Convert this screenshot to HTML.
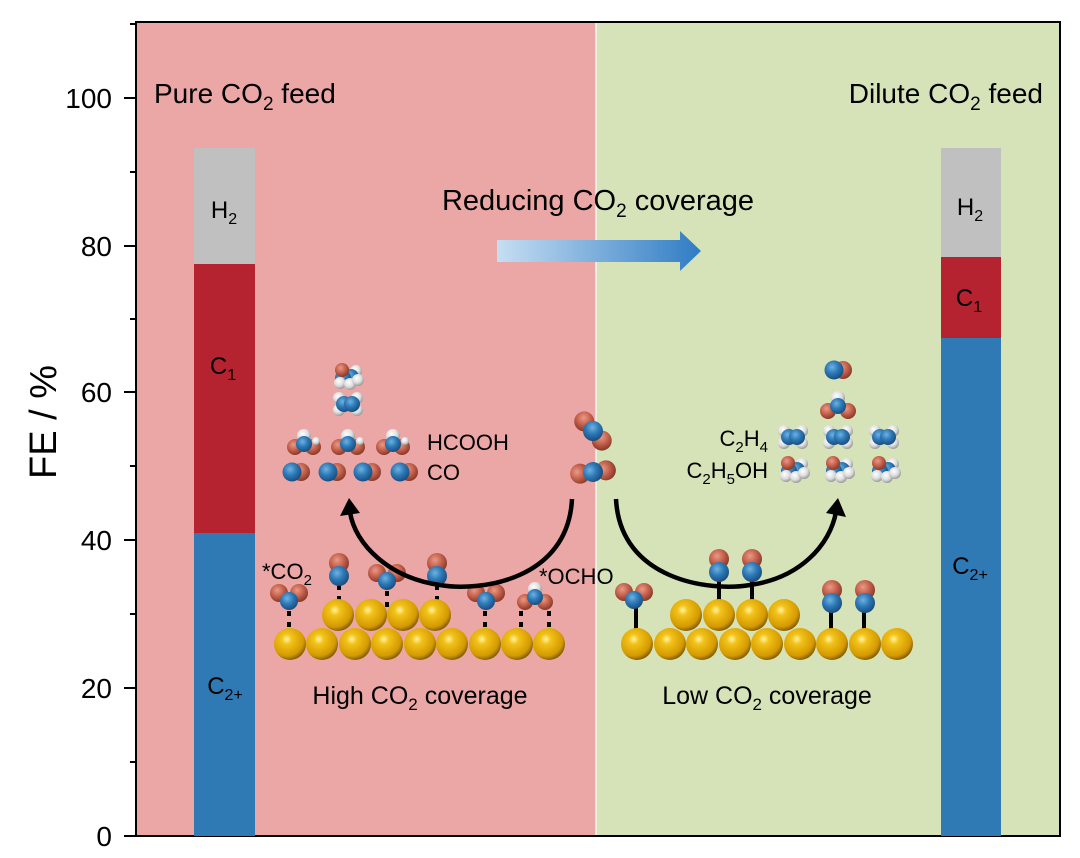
<!DOCTYPE html>
<html><head><meta charset="utf-8"><style>
html,body{margin:0;padding:0;background:#fff;}
svg{display:block;font-family:"Liberation Sans","Noto Sans CJK SC",sans-serif;}
</style></head><body>
<svg width="1080" height="858" viewBox="0 0 1080 858" xmlns="http://www.w3.org/2000/svg">
<defs>
<radialGradient id="gAu" cx="40%" cy="35%" r="65%"><stop offset="0" stop-color="#fff3a0"/><stop offset="0.25" stop-color="#f2c21a"/><stop offset="0.8" stop-color="#d49a00"/><stop offset="1" stop-color="#8c6200"/></radialGradient>
<radialGradient id="gO" cx="40%" cy="35%" r="65%"><stop offset="0" stop-color="#e89a88"/><stop offset="0.5" stop-color="#c8644f"/><stop offset="1" stop-color="#8a3a2a"/></radialGradient>
<radialGradient id="gC" cx="40%" cy="35%" r="65%"><stop offset="0" stop-color="#6fb2e0"/><stop offset="0.5" stop-color="#2e7ab8"/><stop offset="1" stop-color="#1a4f80"/></radialGradient>
<radialGradient id="gH" cx="40%" cy="35%" r="65%"><stop offset="0" stop-color="#ffffff"/><stop offset="0.6" stop-color="#dcdcdc"/><stop offset="1" stop-color="#9a9a9a"/></radialGradient>
<linearGradient id="gArr" x1="0" x2="1"><stop offset="0" stop-color="#c6def2"/><stop offset="1" stop-color="#2f7cc4"/></linearGradient>
<g id="au"><circle r="16" fill="url(#gAu)"/></g>
<g id="co2"><circle cx="-10" cy="-5" r="9" fill="url(#gO)"/><circle cx="10" cy="-5" r="9" fill="url(#gO)"/><circle cx="0" cy="3" r="9" fill="url(#gC)"/></g>
<g id="coUp"><circle cx="0" cy="-7" r="10" fill="url(#gO)"/><circle cx="0" cy="6" r="10" fill="url(#gC)"/></g>
<g id="coH"><circle cx="5" cy="0" r="9" fill="url(#gO)"/><circle cx="-4" cy="0" r="9.5" fill="url(#gC)"/></g>
<g id="hcooh"><circle cx="-9" cy="4" r="8" fill="url(#gO)"/><circle cx="9" cy="4" r="8" fill="url(#gO)"/><circle cx="12" cy="-2" r="4" fill="url(#gH)"/><circle cx="0" cy="-7" r="7" fill="url(#gH)"/><circle cx="0" cy="1" r="8" fill="url(#gC)"/></g>
<g id="ocho"><circle cx="-10" cy="5" r="8" fill="url(#gO)"/><circle cx="10" cy="5" r="8" fill="url(#gO)"/><circle cx="0" cy="-8" r="7" fill="url(#gH)"/><circle cx="0" cy="0" r="8" fill="url(#gC)"/></g>
<g id="c2h4"><circle cx="-9" cy="-6" r="6" fill="url(#gH)"/><circle cx="9" cy="-6" r="6" fill="url(#gH)"/><circle cx="-9" cy="6" r="6" fill="url(#gH)"/><circle cx="9" cy="6" r="6" fill="url(#gH)"/><circle cx="-4" cy="0" r="8" fill="url(#gC)"/><circle cx="4" cy="0" r="8" fill="url(#gC)"/></g>
<g id="etoh"><circle cx="9" cy="-4" r="6" fill="url(#gH)"/><circle cx="4" cy="2" r="8" fill="url(#gC)"/><circle cx="-4" cy="3" r="8" fill="url(#gC)"/><circle cx="-7" cy="8" r="6" fill="url(#gH)"/><circle cx="3" cy="9" r="6" fill="url(#gH)"/><circle cx="11" cy="5" r="6" fill="url(#gH)"/><circle cx="-5" cy="-5" r="7" fill="url(#gO)"/></g>
<g id="co2l"><circle cx="-12" cy="-5" r="10" fill="url(#gO)"/><circle cx="12" cy="5" r="10" fill="url(#gO)"/><circle cx="0" cy="0" r="10" fill="url(#gC)"/></g>
</defs>

<rect x="137" y="22" width="459" height="814" fill="#eba6a6"/>
<rect x="596" y="22" width="464" height="814" fill="#d6e3b9"/>
<line x1="596" y1="22" x2="596" y2="836" stroke="#f4f4f4" stroke-width="1.5"/>
<rect x="136" y="22" width="924" height="814" fill="none" stroke="#000" stroke-width="2"/>

<g stroke="#000" stroke-width="2">
<line x1="124" y1="836" x2="136" y2="836"/><line x1="124" y1="688" x2="136" y2="688"/><line x1="124" y1="540" x2="136" y2="540"/><line x1="124" y1="392" x2="136" y2="392"/><line x1="124" y1="246" x2="136" y2="246"/><line x1="124" y1="98" x2="136" y2="98"/>
<line x1="130" y1="762" x2="136" y2="762"/><line x1="130" y1="614" x2="136" y2="614"/><line x1="130" y1="466" x2="136" y2="466"/><line x1="130" y1="319" x2="136" y2="319"/><line x1="130" y1="172" x2="136" y2="172"/><line x1="130" y1="24" x2="136" y2="24"/>
</g>
<g font-size="28" text-anchor="end" fill="#000">
<text x="112" y="846">0</text><text x="112" y="698">20</text><text x="112" y="550">40</text><text x="112" y="402">60</text><text x="112" y="256">80</text><text x="112" y="108">100</text>
</g>
<text x="0" y="0" font-size="38" transform="translate(56,422) rotate(-90)" text-anchor="middle">FE / %</text>

<rect x="194" y="148" width="61" height="116" fill="#c0c0c0"/>
<rect x="194" y="264" width="61" height="269" fill="#b52330"/>
<rect x="194" y="533" width="61" height="303" fill="#2f79b5"/>
<rect x="941" y="148" width="60" height="109" fill="#c0c0c0"/>
<rect x="941" y="257" width="60" height="81" fill="#b52330"/>
<rect x="941" y="338" width="60" height="498" fill="#2f79b5"/>
<g font-size="24" text-anchor="middle">
<text x="224" y="218">H<tspan font-size="16" dy="6">2</tspan></text>
<text x="223" y="374">C<tspan font-size="16" dy="6">1</tspan></text>
<text x="225" y="694">C<tspan font-size="16" dy="6">2+</tspan></text>
<text x="970" y="215">H<tspan font-size="16" dy="6">2</tspan></text>
<text x="969" y="306">C<tspan font-size="16" dy="6">1</tspan></text>
<text x="970" y="574">C<tspan font-size="16" dy="6">2+</tspan></text>
</g>

<g font-size="28">
<text x="154" y="103">Pure CO<tspan font-size="19" dy="7">2</tspan><tspan dy="-7"> feed</tspan></text>
<text x="1043" y="103" text-anchor="end">Dilute CO<tspan font-size="19" dy="7">2</tspan><tspan dy="-7"> feed</tspan></text>
</g>
<text x="598" y="210" font-size="29" text-anchor="middle">Reducing CO<tspan font-size="19" dy="7">2</tspan><tspan dy="-7"> coverage</tspan></text>
<path d="M497 240 H680 V231 L701 251 L680 271 V262 H497 Z" fill="url(#gArr)"/>

<g font-size="25">
<text x="420" y="704" text-anchor="middle">High CO<tspan font-size="17" dy="6">2</tspan><tspan dy="-6"> coverage</tspan></text>
<text x="767" y="704" text-anchor="middle">Low CO<tspan font-size="17" dy="6">2</tspan><tspan dy="-6"> coverage</tspan></text>
</g>
<g font-size="22">
<text x="427" y="450">HCOOH</text>
<text x="427" y="480">CO</text>
<text x="768" y="446" text-anchor="end">C<tspan font-size="15" dy="6">2</tspan><tspan dy="-6">H</tspan><tspan font-size="15" dy="6">4</tspan></text>
<text x="768" y="478" text-anchor="end">C<tspan font-size="15" dy="6">2</tspan><tspan dy="-6">H</tspan><tspan font-size="15" dy="6">5</tspan><tspan dy="-6">OH</tspan></text>
<text x="262" y="579">*CO<tspan font-size="15" dy="6">2</tspan></text>
<text x="539" y="584">*OCHO</text>
</g>

<g stroke="#000" stroke-width="4" stroke-dasharray="5,6">
<line x1="289" y1="611" x2="289" y2="630"/>
<line x1="339" y1="585" x2="339" y2="602"/>
<line x1="387" y1="591" x2="387" y2="610"/>
<line x1="437" y1="585" x2="437" y2="602"/>
<line x1="485" y1="611" x2="485" y2="630"/>
<line x1="521" y1="611" x2="521" y2="630"/>
<line x1="549" y1="611" x2="549" y2="630"/>
</g>
<g stroke="#000" stroke-width="4">
<line x1="636" y1="608" x2="636" y2="630"/>
<line x1="719" y1="578" x2="719" y2="602"/>
<line x1="752" y1="578" x2="752" y2="602"/>
<line x1="831" y1="610" x2="831" y2="630"/>
<line x1="864" y1="610" x2="864" y2="630"/>
</g>

<use href="#au" x="290" y="644"/><use href="#au" x="322" y="644"/><use href="#au" x="355" y="644"/><use href="#au" x="387" y="644"/><use href="#au" x="420" y="644"/><use href="#au" x="452" y="644"/><use href="#au" x="485" y="644"/><use href="#au" x="517" y="644"/><use href="#au" x="549" y="644"/>
<use href="#au" x="338" y="615"/><use href="#au" x="371" y="615"/><use href="#au" x="403" y="615"/><use href="#au" x="435" y="615"/>
<use href="#au" x="637" y="644"/><use href="#au" x="670" y="644"/><use href="#au" x="702" y="644"/><use href="#au" x="735" y="644"/><use href="#au" x="767" y="644"/><use href="#au" x="800" y="644"/><use href="#au" x="832" y="644"/><use href="#au" x="865" y="644"/><use href="#au" x="897" y="644"/>
<use href="#au" x="686" y="615"/><use href="#au" x="719" y="615"/><use href="#au" x="752" y="615"/><use href="#au" x="784" y="615"/>

<use href="#co2" x="289" y="598"/>
<use href="#coUp" x="339" y="570"/>
<use href="#co2" x="387" y="578"/>
<use href="#coUp" x="437" y="570"/>
<use href="#co2" x="486" y="598"/>
<use href="#ocho" x="535" y="597"/>
<use href="#co2" x="634" y="597"/>
<use href="#coUp" x="719" y="566"/>
<use href="#coUp" x="752" y="566"/>
<use href="#coUp" x="832" y="597"/>
<use href="#coUp" x="865" y="597"/>

<use href="#etoh" x="347" y="375"/>
<use href="#c2h4" x="348" y="404"/>
<use href="#hcooh" x="304" y="443"/><use href="#hcooh" x="348" y="443"/><use href="#hcooh" x="393" y="443"/>
<use href="#coH" x="296" y="472"/><use href="#coH" x="332" y="472"/><use href="#coH" x="367" y="472"/><use href="#coH" x="404" y="472"/>
<g transform="translate(593,431) rotate(25)"><use href="#co2l"/></g>
<g transform="translate(593,472) rotate(-30)"><use href="#co2l"/></g>
<use href="#coH" x="838" y="370"/>
<use href="#ocho" x="838" y="406"/>
<use href="#c2h4" x="793" y="437"/><use href="#c2h4" x="838" y="437"/><use href="#c2h4" x="884" y="437"/>
<use href="#etoh" x="793" y="468"/><use href="#etoh" x="838" y="468"/><use href="#etoh" x="884" y="468"/>

<g fill="none" stroke="#000" stroke-width="4.5">
<path d="M572 499 C568 580 480 592 440 585 C390 578 355 545 350 512"/>
<path d="M616 499 C620 580 710 592 750 585 C800 578 830 545 836 512"/>
</g>
<path d="M340 516 L349 498 L360 513 Z" fill="#000"/>
<path d="M826 513 L838 498 L846 517 Z" fill="#000"/>

<text x="10" y="845" font-size="18" fill="#ffffff" opacity="0.8">ⓒ 大数据</text>
</svg>
</body></html>
